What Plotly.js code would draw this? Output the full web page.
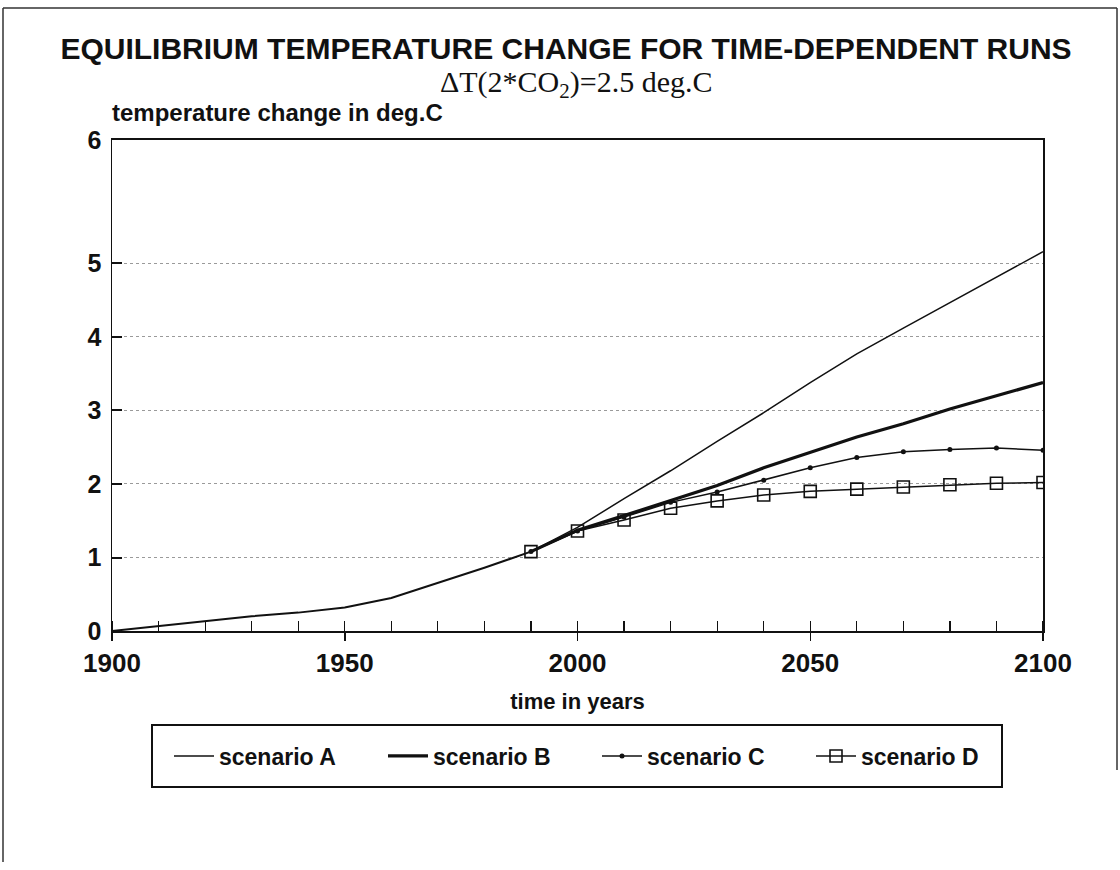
<!DOCTYPE html>
<html>
<head>
<meta charset="utf-8">
<script src="https://cdn.plot.ly/plotly-3.0.1.min.js"></script>
<style>
  html, body { margin: 0; padding: 0; background: #ffffff; }
  #chart { width: 1120px; height: 870px; }
</style>
</head>
<body>
<div id="chart"></div>
<script>
// ---- data ----
const histYears = [1900, 1910, 1920, 1930, 1940, 1950, 1960, 1970, 1980, 1990];
const histTemp  = [0.00, 0.07, 0.14, 0.20, 0.25, 0.32, 0.45, 0.65, 0.86, 1.08];

const projYears = [1990, 2000, 2010, 2020, 2030, 2040, 2050, 2060, 2070, 2080, 2090, 2100];
const scenarioA = [1.08, 1.41, 1.80, 2.18, 2.58, 2.97, 3.38, 3.77, 4.12, 4.47, 4.82, 5.16];
const scenarioB = [1.08, 1.37, 1.57, 1.78, 1.98, 2.22, 2.43, 2.64, 2.82, 3.02, 3.20, 3.38];
const scenarioC = [1.08, 1.36, 1.55, 1.75, 1.89, 2.05, 2.22, 2.36, 2.44, 2.47, 2.49, 2.46];
const scenarioD = [1.08, 1.36, 1.51, 1.67, 1.77, 1.85, 1.90, 1.93, 1.96, 1.99, 2.01, 2.02];

const seriesNames = ['scenario A', 'scenario B', 'scenario C', 'scenario D'];
const yTickLabels = ['0', '1', '2', '3', '4', '5', '6'];
const xTickLabels = ['1900', '1950', '2000', '2050', '2100'];

// ---- layout helpers ----
const W = 1120, H = 870;
const M = { l: 112, r: 77, t: 140, b: 239 };
const pw = W - M.l - M.r, ph = H - M.t - M.b;
const px = x => (x - M.l) / pw;          // pixel -> paper x
const py = y => (H - M.b - y) / ph;      // pixel -> paper y
const yTop = 6.68;                        // top edge of the frame (labelled 6 in the original)
const yTickVals = [0, 1, 2, 3, 4, 5, yTop];
const xTickVals = [1900, 1950, 2000, 2050, 2100];

const SANS = 'Liberation Sans, Arial, Helvetica, sans-serif';
const SERIF = 'Liberation Serif, Times New Roman, serif';
const INK = '#111111';

const traces = [
  { x: histYears, y: histTemp, mode: 'lines', line: { color: INK, width: 2 },
    showlegend: false, hoverinfo: 'skip' },
  { x: projYears, y: scenarioA, name: seriesNames[0], mode: 'lines',
    line: { color: INK, width: 1.5 } },
  { x: projYears, y: scenarioB, name: seriesNames[1], mode: 'lines',
    line: { color: INK, width: 3.2 } },
  { x: projYears, y: scenarioC, name: seriesNames[2], mode: 'lines+markers',
    line: { color: INK, width: 1.5 }, marker: { symbol: 'circle', size: 5, color: INK } },
  { x: projYears, y: scenarioD, name: seriesNames[3], mode: 'lines+markers',
    line: { color: INK, width: 1.5 },
    marker: { symbol: 'square-open', size: 12, color: INK, line: { width: 1.6, color: INK } } }
];

const frame = { color: '#333333', width: 1.5 };
const layout = {
  width: W, height: H,
  margin: M,
  paper_bgcolor: '#ffffff', plot_bgcolor: '#ffffff',
  showlegend: true,
  title: {
    text: 'EQUILIBRIUM TEMPERATURE CHANGE FOR TIME-DEPENDENT RUNS',
    font: { family: SANS, size: 30, color: INK, weight: 'bold' },
    x: 566 / W, xanchor: 'center', xref: 'container',
    y: 1 - 48 / H, yanchor: 'middle', yref: 'container'
  },
  xaxis: {
    range: [1900, 2100],
    tickvals: xTickVals, ticktext: xTickLabels,
    ticks: 'outside', ticklen: 8, tickwidth: 1.5, tickcolor: INK,
    minor: { dtick: 10, tick0: 1900, ticks: 'inside', ticklen: 10, tickwidth: 1.2, tickcolor: INK, showgrid: false },
    ticklabelstandoff: 0,
    tickfont: { family: SANS, size: 26, color: INK, weight: 'bold' },
    showgrid: false, zeroline: false,
    showline: true, linecolor: INK, linewidth: 2, mirror: true,
    title: { text: 'time in years', standoff: 16,
             font: { family: SANS, size: 22, color: INK, weight: 'bold' } }
  },
  yaxis: {
    range: [0, yTop],
    tickvals: yTickVals, ticktext: yTickLabels,
    ticks: 'inside', ticklen: 10, tickwidth: 2, tickcolor: INK,
    ticklabelstandoff: 4,
    tickfont: { family: SANS, size: 25, color: INK, weight: 'bold' },
    showgrid: true, gridcolor: '#9a9a9a', gridwidth: 1, griddash: 'dot',
    zeroline: false,
    showline: true, linecolor: INK, linewidth: 1.5, mirror: true
  },
  legend: {
    orientation: 'h',
    x: px(169), xanchor: 'left',
    y: py(756), yanchor: 'middle',
    itemwidth: 40,
    entrywidth: 159, entrywidthmode: 'pixels',
    bgcolor: 'rgba(0,0,0,0)', borderwidth: 0,
    font: { family: SANS, size: 23, color: INK, weight: 'bold' }
  },
  annotations: [
    { text: 'ΔT(2*CO<sub>2</sub>)=2.5 deg.C', showarrow: false,
      xref: 'paper', yref: 'paper', x: px(576), y: py(84), xanchor: 'center', yanchor: 'middle',
      font: { family: SERIF, size: 30, color: INK } },
    { text: 'temperature change in deg.C', showarrow: false,
      xref: 'paper', yref: 'paper', x: px(110), y: py(113), xanchor: 'left', yanchor: 'middle',
      font: { family: SANS, size: 24, color: INK, weight: 'bold' } }
  ],
  shapes: [
    // legend box
    { type: 'rect', xref: 'paper', yref: 'paper',
      x0: px(152), x1: px(1002), y0: py(787), y1: py(725),
      line: { color: INK, width: 2 }, fillcolor: 'rgba(0,0,0,0)' },
    // outer page frame: top, left, right
    { type: 'line', xref: 'paper', yref: 'paper', x0: px(3), x1: px(1117), y0: py(8), y1: py(8), line: frame },
    { type: 'line', xref: 'paper', yref: 'paper', x0: px(3), x1: px(3), y0: py(8), y1: py(862), line: frame },
    { type: 'line', xref: 'paper', yref: 'paper', x0: px(1117), x1: px(1117), y0: py(8), y1: py(770), line: frame }
  ]
};

Plotly.newPlot('chart', traces, layout, { displayModeBar: false, staticPlot: true });
</script>
</body>
</html>
